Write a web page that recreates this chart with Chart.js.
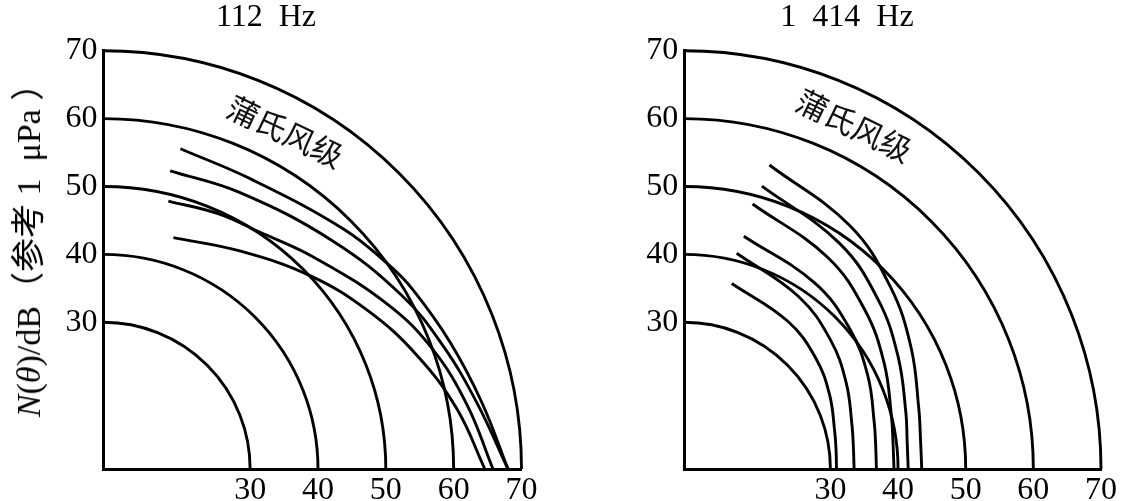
<!DOCTYPE html>
<html>
<head>
<meta charset="utf-8">
<script src="https://cdn.jsdelivr.net/npm/chart.js@4.4.0/dist/chart.umd.min.js"></script>
<style>
  html, body { margin: 0; padding: 0; background: #fff; }
  #wrap { position: relative; width: 1121px; height: 501px; overflow: hidden; background: #fff; }
  canvas { position: absolute; top: 0; }
  .txt { position: absolute; color: #000; white-space: pre; transform-origin: 50% 50%;
         font-family: "Liberation Serif", "Noto Sans CJK SC", serif; line-height: 1; }
  .cjk { font-family: "Noto Sans CJK SC", sans-serif; font-weight: 400; color: #111; }
</style>
</head>
<body>
<div id="wrap">
  <canvas id="chart112" width="560" height="501" style="left:0"></canvas>
  <canvas id="chart1414" width="561" height="501" style="left:560px"></canvas>

  <div class="txt" id="t1" style="font-size:32px; left:266px; top:15px; transform:translate(-50%,-50%)">112  Hz</div>
  <div class="txt" id="t2" style="font-size:32px; left:847px; top:15px; transform:translate(-50%,-50%)">1  414  Hz</div>
  <div class="txt" id="ytitle" style="font-size:34px; left:29px; top:242px; transform:translate(-50%,-50%) rotate(-90deg)"><i>N</i>(<i>θ</i>)/dB（参考 1  μPa ）</div>
  <div class="txt cjk" id="w1" style="font-size:31px; left:286px; top:130px; transform:translate(-50%,-50%) rotate(25.5deg)">蒲氏风级</div>
  <div class="txt cjk" id="w2" style="font-size:31px; left:855px; top:124px; transform:translate(-50%,-50%) rotate(26deg)">蒲氏风级</div>
</div>

<script>
// ---------- data ----------
const L0 = 8.4;                       // level (dB) at the polar origin
const ringLevels = [30, 40, 50, 60, 70];
const tickLevels = [30, 40, 50, 60, 70];

// 112 Hz : angle above horizontal (deg) and noise level (dB)
const ang112A = [76.5, 63.1, 45, 35.5, 30, 20, 10, 0];
const lev112A = [56.9, 56.3, 58.4, 60.1, 61.1, 62.8, 65.0, 68.0];
const ang112B = [77.4, 63.7, 45, 30, 20, 10, 0];
const lev112B = [53.4, 53.8, 56.0, 59.3, 61.6, 64.3, 68.0];
const ang112C = [76.4, 66, 56.5, 45, 30, 20, 10, 0];
const lev112C = [49.0, 49.6, 50.2, 52.4, 56.8, 60.0, 62.8, 65.8];
const ang112D = [73.2, 57.8, 43.0, 30.9, 20.0, 9.7, 0];
const lev112D = [44.0, 46.3, 50.1, 53.8, 57.5, 61.2, 64.6];

// 1414 Hz
const ang1414A = [74.3, 55.7, 41.4, 28.1, 14.5, 7.3, 0];
const lev1414A = [54.9, 51.8, 49.0, 46.4, 44.2, 43.6, 43.5];
const ang1414B = [74.6, 55.5, 41.1, 27.8, 14.3, 7.2, 0];
const lev1414B = [51.6, 48.8, 46.4, 44.1, 42.2, 41.6, 41.5];
const ang1414C = [75.5, 55.9, 41.2, 27.8, 14.3, 7.2, 0];
const lev1414C = [48.7, 46.1, 43.9, 41.8, 40.0, 39.5, 39.4];
const ang1414D = [75.6, 54.9, 40.1, 26.8, 13.7, 6.9, 0];
const lev1414D = [43.8, 41.9, 40.4, 38.8, 37.3, 36.9, 36.8];
const ang1414E = [76.3, 56.3, 41.5, 28.0, 14.4, 7.3, 0];
const lev1414E = [41.1, 38.9, 37.2, 35.5, 34.0, 33.6, 33.5];
const ang1414F = [75.6, 55.0, 40.2, 27.0, 13.8, 6.9, 0];
const lev1414F = [36.6, 35.0, 33.8, 32.5, 31.3, 31.0, 30.9];

// ---------- helpers ----------
function toXY(angles, levels) {
  return angles.map((a, i) => {
    const r = levels[i] - L0, t = a * Math.PI / 180;
    return { x: r * Math.cos(t), y: r * Math.sin(t) };
  });
}

const ringPlugin = {
  id: 'rings',
  beforeDatasetsDraw(chart) {
    const { ctx, scales: { x, y } } = chart;
    const cx = x.getPixelForValue(0), cy = y.getPixelForValue(0);
    ctx.save();
    ctx.strokeStyle = '#000';
    ctx.lineWidth = 2.9;
    ringLevels.forEach(l => {
      const rx = x.getPixelForValue(l - L0) - cx;
      const ry = cy - y.getPixelForValue(l - L0);
      ctx.beginPath();
      ctx.ellipse(cx, cy, rx, ry, 0, -Math.PI / 2, 0);
      ctx.stroke();
    });
    ctx.restore();
  }
};

const tickFont = { family: 'Liberation Serif', size: 32 };

function makeChart(id, curves, yWidth, padRight) {
  return new Chart(document.getElementById(id), {
    type: 'scatter',
    data: {
      datasets: curves.map(c => ({
        data: toXY(c[0], c[1]),
        showLine: true,
        borderColor: '#000',
        borderWidth: 2.9,
        pointRadius: 0,
        tension: 0.4,
        fill: false,
        clip: false
      }))
    },
    options: {
      responsive: false,
      animation: false,
      events: [],
      layout: { padding: { left: 0, top: 50.7, right: padRight, bottom: 0 } },
      plugins: { legend: { display: false }, tooltip: { enabled: false }, title: { display: false } },
      scales: {
        x: {
          type: 'linear', min: 0, max: 70 - L0,
          grid: { display: false, drawTicks: false },
          border: { display: true, color: '#000', width: 3 },
          afterBuildTicks: s => { s.ticks = tickLevels.map(v => ({ value: v - L0 })); },
          afterFit: s => { s.height = 32; },
          ticks: { color: '#000', font: tickFont, padding: 2, maxRotation: 0, autoSkip: false,
                   callback: v => String(Math.round(v + L0)) }
        },
        y: {
          type: 'linear', min: 0, max: 70 - L0,
          grid: { display: false, drawTicks: false },
          border: { display: true, color: '#000', width: 3 },
          afterBuildTicks: s => { s.ticks = tickLevels.map(v => ({ value: v - L0 })); },
          afterFit: s => { s.width = yWidth; },
          ticks: { color: '#000', font: tickFont, padding: 6, autoSkip: false,
                   callback: v => String(Math.round(v + L0)) }
        }
      }
    },
    plugins: [ringPlugin]
  });
}

makeChart('chart112', [
  [ang112A, lev112A], [ang112B, lev112B], [ang112C, lev112C], [ang112D, lev112D]
], 103.6, 38.5);

makeChart('chart1414', [
  [ang1414A, lev1414A], [ang1414B, lev1414B], [ang1414C, lev1414C],
  [ang1414D, lev1414D], [ang1414E, lev1414E], [ang1414F, lev1414F]
], 124.3, 20);
</script>
</body>
</html>
